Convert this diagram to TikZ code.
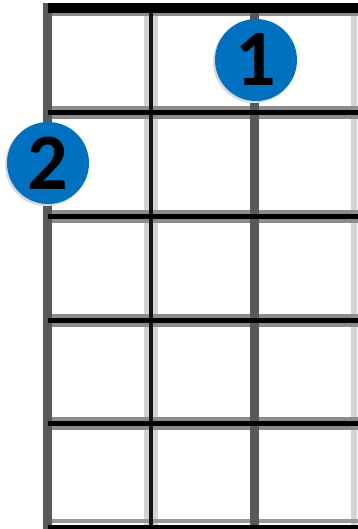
\documentclass[tikz,border=0pt]{standalone}
\usepackage{fontspec}
\setmainfont{Carlito}
\definecolor{dotblue}{HTML}{0070C0}
\begin{document}
\begin{tikzpicture}[x=1pt,y=-1pt,
  fretglow/.style={line width=13pt, draw=black!45},
  fretline/.style={line width=5pt, draw=black},
  graystring/.style={line width=8.5pt, draw=black!65},
  blackstring/.style={line width=4pt, draw=black!92},
  glowstring/.style={line width=14pt, draw=black!17},
  dot/.style={circle, fill=dotblue, minimum size=82pt, inner sep=0pt,
    font=\fontsize{80}{80}\selectfont\bfseries, text=black},
  shadow/.style={circle, fill=black!15, minimum size=82pt, inner sep=0pt}]
\useasboundingbox (0,0) rectangle (358,529);
\fill[white] (0,0) rectangle (358,529);
% string glows
\draw[glowstring] (151,3) -- (151,529);
\draw[line width=6pt, draw=black!17] (354,3) -- (354,529);
% frets
\foreach \y in {113,216,320,423} {
  \draw[fretglow] (48,\y) -- (358,\y);
}
\draw[line width=3pt, draw=black!45] (48,14.5) -- (358,14.5);
\draw[line width=4pt, draw=black!40] (48,521) -- (358,521);
% strings
\draw[graystring] (47.5,3) -- (47.5,529);
\draw[graystring] (254.5,3) -- (254.5,529);
\draw[blackstring] (151,3) -- (151,529);
% fret black lines
\foreach \y in {113,216,320,423} {
  \draw[fretline] (48,\y) -- (358,\y);
}
\draw[line width=10pt, draw=black] (48,8) -- (358,8);
\draw[line width=5pt, draw=black] (48,527) -- (358,527);
% finger dots
\node[shadow] at (254,62) {};
\node[dot] (f1) at (256,60) {1};
\node[shadow] at (46,165) {};
\node[dot] (f2) at (48,163) {2};
\end{tikzpicture}
\end{document}
